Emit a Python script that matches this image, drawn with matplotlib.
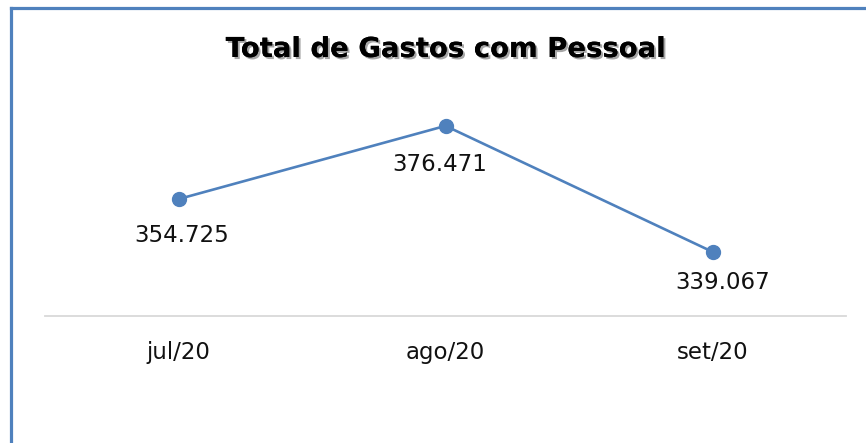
import matplotlib.pyplot as plt
import matplotlib.patheffects as pe
from matplotlib.lines import Line2D

months = ["jul/20", "ago/20", "set/20"]
gastos = [354.725, 376.471, 339.067]
labels = ["354.725", "376.471", "339.067"]

blue = "#4F81BD"
font = "DejaVu Sans"
# deslocamento dos rotulos (pontos), como no Excel
label_dx = [2.5, -4.5, 7.5]
label_dy = [-26, -28, -22]

fig = plt.figure(figsize=(8.66, 4.43), dpi=100)
ax = fig.add_axes([45 / 866, 1 - 316 / 443, 801 / 866, 202 / 443])

x = list(range(len(months)))
ax.plot(x, gastos, color=blue, lw=1.9, marker="o", ms=10, zorder=3)

for xi, v, lab, dx, dy in zip(x, gastos, labels, label_dx, label_dy):
    ax.annotate(lab, (xi, v), xytext=(dx, dy), textcoords="offset points",
                ha="center", va="center", fontsize=16.5, family=font, color="#111111")

ax.set_xlim(-0.5, 2.5)
ax.set_ylim(320, 380)
ax.set_yticks([])
ax.set_xticks(x)
ax.set_xticklabels(months, fontsize=16.5, family=font, color="#111111")
ax.tick_params(axis="x", length=0, pad=18)
for side in ["top", "left", "right"]:
    ax.spines[side].set_visible(False)
ax.spines["bottom"].set_color("#D9D9D9")
ax.spines["bottom"].set_linewidth(1.3)

# titulo com sombra
fig.text(445 / 866, 1 - 49 / 443, "Total de Gastos com Pessoal", ha="center", va="center",
         fontsize=19.8, fontweight="bold", family=font,
         path_effects=[pe.withSimplePatchShadow(offset=(1.5, -1.5), alpha=0.35), pe.Normal()])

# borda do grafico (so topo e esquerda aparecem)
fig.add_artist(Line2D([11 / 866, 1], [1 - 8 / 443, 1 - 8 / 443], transform=fig.transFigure,
                      color=blue, lw=2.3))
fig.add_artist(Line2D([11 / 866, 11 / 866], [0, 1 - 8 / 443], transform=fig.transFigure,
                      color=blue, lw=2.3))

fig.savefig("out.png", dpi=100)
